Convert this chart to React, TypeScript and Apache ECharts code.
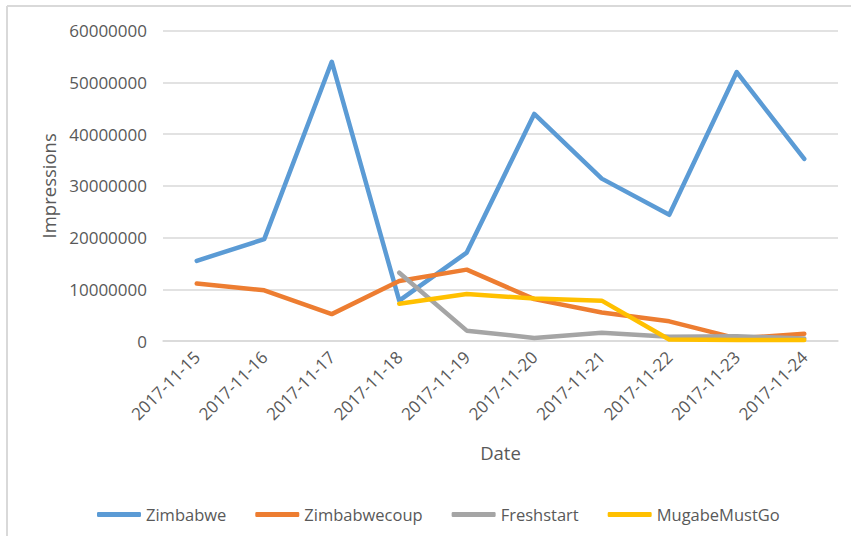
import React, { useEffect, useRef } from "react";
import * as echarts from "echarts";

const dates = [
  "2017-11-15", "2017-11-16", "2017-11-17", "2017-11-18", "2017-11-19",
  "2017-11-20", "2017-11-21", "2017-11-22", "2017-11-23", "2017-11-24",
];
const zimbabwe = [15500000, 19700000, 54000000, 7800000, 17100000, 43900000, 31400000, 24400000, 52000000, 35200000];
const zimbabwecoup = [11100000, 9800000, 5200000, 11600000, 13800000, 8100000, 5500000, 3800000, 500000, 1400000];
const freshstart = [null, null, null, 13200000, 2000000, 600000, 1600000, 800000, 900000, 500000];
const mugabeMustGo = [null, null, null, 7200000, 9100000, 8200000, 7800000, 300000, 200000, 200000];

const seriesNames = ["Zimbabwe", "Zimbabwecoup", "Freshstart", "MugabeMustGo"];
const seriesColors = ["#5B9BD5", "#ED7D31", "#A5A5A5", "#FFC000"];

const FONT = "'Open Sans', 'Noto Sans', sans-serif";
const TXT = "#595959";

export default function App() {
  const ref = useRef<HTMLDivElement>(null);
  useEffect(() => {
    if (!ref.current) return;
    const chart = echarts.init(ref.current, null, { renderer: "svg" });
    const datasets = [zimbabwe, zimbabwecoup, freshstart, mugabeMustGo];
    chart.setOption({
      animation: false,
      backgroundColor: "#ffffff",
      textStyle: { fontFamily: FONT },
      graphic: [
        { type: "line", shape: { x1: 7, y1: 6, x2: 851, y2: 6 }, style: { stroke: "#d9d9d9", lineWidth: 2 } },
        { type: "line", shape: { x1: 7, y1: 6, x2: 7, y2: 536 }, style: { stroke: "#d9d9d9", lineWidth: 2 } },
      ],
      grid: { left: 163, right: 13, top: 30.7, bottom: 195, containLabel: false },
      legend: {
        left: 92,
        top: 501,
        itemWidth: 44,
        itemHeight: 5,
        itemGap: 29,
        icon: "roundRect",
        data: seriesNames,
        textStyle: { fontFamily: FONT, fontSize: 16.5, color: TXT },
      },
      xAxis: {
        type: "category",
        data: dates,
        boundaryGap: true,
        name: "Date",
        nameLocation: "middle",
        nameGap: 102,
        nameTextStyle: { fontFamily: FONT, fontSize: 18.5, color: TXT },
        axisLine: { show: true, lineStyle: { color: "#d9d9d9", width: 1.5 } },
        axisTick: { show: false },
        axisLabel: { rotate: 45, margin: 13, fontFamily: FONT, fontSize: 17, color: TXT, interval: 0 },
      },
      yAxis: {
        type: "value",
        min: 0,
        max: 60000000,
        interval: 10000000,
        name: "Impressions",
        nameLocation: "middle",
        nameGap: 104,
        nameTextStyle: { fontFamily: FONT, fontSize: 18.5, color: TXT },
        axisLine: { show: false },
        axisTick: { show: false },
        axisLabel: {
          margin: 16,
          fontFamily: FONT,
          fontSize: 17,
          color: TXT,
          formatter: (v: number) => String(v),
        },
        splitLine: { lineStyle: { color: "#d9d9d9", width: 1.5 } },
      },
      series: seriesNames.map((name, i) => ({
        name,
        type: "line",
        data: datasets[i],
        symbol: "none",
        showSymbol: false,
        connectNulls: false,
        color: seriesColors[i],
        lineStyle: { width: 4.5, color: seriesColors[i], cap: "round", join: "round" },
        itemStyle: { color: seriesColors[i] },
      })),
    });
    return () => chart.dispose();
  }, []);
  return (
    <div
      ref={ref}
      style={{ position: "fixed", left: 0, top: 0, width: 851, height: 536, background: "#fff" }}
    />
  );
}
